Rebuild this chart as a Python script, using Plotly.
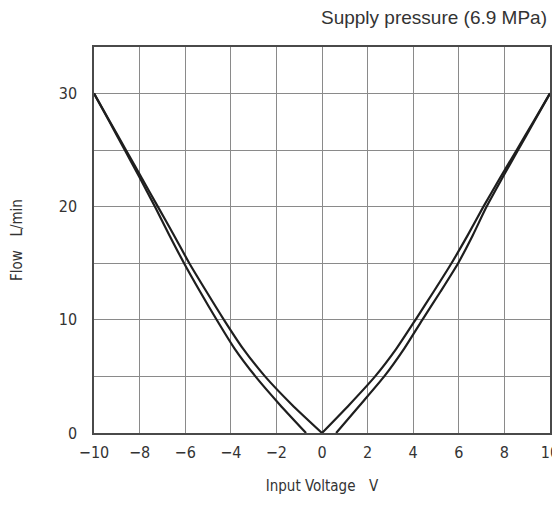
import plotly.graph_objects as go

LINE = "#1e1e1e"
GRID = "#8a8a8a"
FRAME = "#4a4a4a"
TEXT = "#333333"
NARROW = "DejaVu Sans Condensed, Roboto, Arial, sans-serif"

flow_levels = [0, 2.5, 5, 7.5, 10, 12.5, 15, 17.5, 20, 22.5, 25, 27.5, 30]

# inner curve (V with apex at 0 V)
inner_left_x = [0, -1.32, -2.5, -3.48, -4.3, -5.07, -5.82, -6.5, -7.2, -7.9, -8.6, -9.3, -10]
inner_right_x = [0, 1.2, 2.33, 3.28, 4.1, 4.9, 5.68, 6.4, 7.08, 7.8, 8.54, 9.27, 10]

# outer curve (offset near zero)
outer_left_x = [-0.7, -1.85, -2.92, -3.85, -4.62, -5.35, -6.05, -6.7, -7.33, -7.98, -8.65, -9.32, -10]
outer_right_x = [0.62, 1.68, 2.73, 3.62, 4.4, 5.2, 5.97, 6.62, 7.22, 7.9, 8.6, 9.3, 10]

x_ticks = [-10, -8, -6, -4, -2, 0, 2, 4, 6, 8, 10]
y_ticks = [0, 10, 20, 30]

fig = go.Figure()

for xs in [inner_left_x, inner_right_x, outer_left_x, outer_right_x]:
    fig.add_trace(
        go.Scatter(
            x=xs,
            y=flow_levels,
            mode="lines",
            line=dict(color=LINE, width=2.2, shape="spline", smoothing=0.6),
            showlegend=False,
            hoverinfo="skip"
        )
    )

# page body adds an 8px margin, so the figure is sized to fit inside it
fig.update_layout(
    width=552,
    height=490,
    paper_bgcolor="white",
    plot_bgcolor="white",
    margin=dict(l=86, r=10, t=39, b=65),
    font=dict(family=NARROW, size=16, color=TEXT),
    showlegend=False,
    annotations=[
        dict(
            text="Supply pressure (6.9 MPa)",
            xref="paper", yref="paper",
            x=1.0, y=1.0,
            xanchor="right", yanchor="top",
            xshift=-1,
            yshift=42,
            showarrow=False,
            font=dict(family="Liberation Sans, Arial, sans-serif", size=19, color=TEXT)
        )
    ]
)

fig.update_xaxes(
    range=[-10, 10],
    tickvals=x_ticks,
    ticks="",
    ticklabelstandoff=4,
    showgrid=True,
    gridcolor=GRID,
    gridwidth=1,
    zeroline=False,
    showline=True,
    linecolor=FRAME,
    linewidth=1.5,
    mirror=True,
    automargin=False,
    title=dict(text="Input Voltage\u2003V", standoff=20,
               font=dict(family=NARROW, size=15))
)

fig.update_yaxes(
    range=[0, 34.1],
    tickvals=y_ticks,
    ticks="",
    ticklabelstandoff=12,
    showgrid=True,
    gridcolor=GRID,
    gridwidth=1,
    minor=dict(dtick=5, tick0=0, showgrid=True, gridcolor=GRID, gridwidth=1),
    zeroline=False,
    showline=True,
    linecolor=FRAME,
    linewidth=1.5,
    mirror=True,
    automargin=False,
    title=dict(text="Flow\u2003L/min", standoff=38,
               font=dict(family=NARROW, size=15))
)

fig.write_html("out.html")
